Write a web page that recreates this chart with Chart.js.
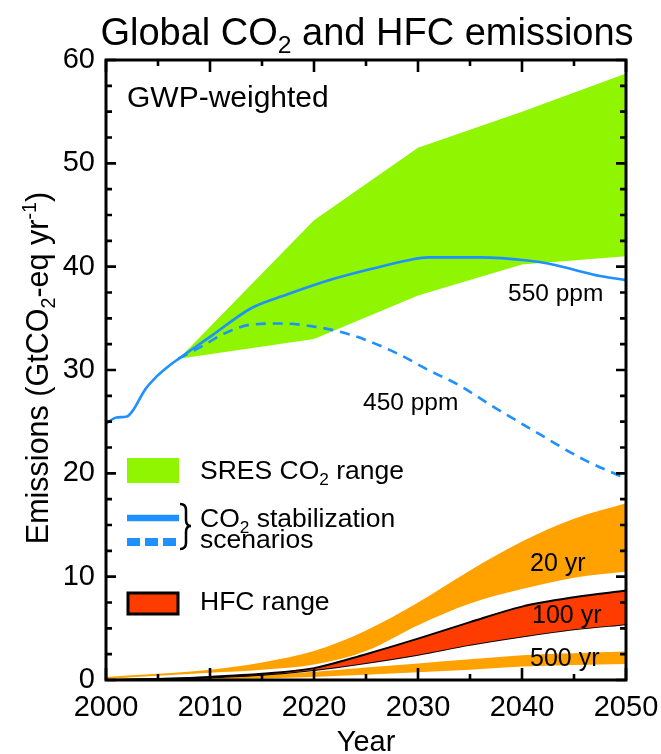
<!DOCTYPE html>
<html><head><meta charset="utf-8">
<script src="https://cdn.jsdelivr.net/npm/chart.js@4/dist/chart.umd.min.js"></script>
<style>html,body{margin:0;padding:0;background:#fff}#wrap{width:661px;height:754px}</style>
</head><body><div id="wrap"><canvas id="c" width="661" height="754"></canvas></div>
<script>
const FONT = '"Liberation Sans", Arial, Helvetica, sans-serif';

// Tick labels
const xTickValues = [2000, 2010, 2020, 2030, 2040, 2050];
const yTickValues = [0, 10, 20, 30, 40, 50, 60];

// SRES CO2 range (GtCO2-eq/yr)
const sresYears = [2007, 2020, 2030, 2040, 2050];
const sresHigh  = [31.1, 44.5, 51.5, 55.0, 58.7];
const sresLow   = [31.1, 33.0, 37.2, 40.2, 41.0];

// CO2 stabilization scenarios
const stab550Years = [2000, 2001, 2002, 2002.6, 2003.75, 2004.9, 2005.8, 2007, 2008.7, 2010, 2014, 2017.4, 2021.5, 2025.6, 2029.4, 2031, 2036, 2040.5, 2042.5, 2045, 2047.5, 2050];
const stab550      = [24.8, 25.4, 25.5, 26.1, 28.1, 29.4, 30.2, 31.1, 32.3, 33.2, 36.0, 37.3, 38.7, 39.8, 40.7, 40.9, 40.9, 40.6, 40.3, 39.7, 39.1, 38.7];
const stab450Years = [2007, 2009.4, 2011.3, 2014, 2017, 2020, 2022.5, 2025, 2028, 2031, 2034, 2037, 2041, 2046, 2050];
const stab450      = [31.1, 32.4, 33.5, 34.4, 34.5, 34.2, 33.7, 32.9, 31.6, 30.0, 28.5, 26.6, 24.2, 21.3, 19.5];

// HFC range, GWP-weighted for 20, 100 and 500 yr horizons
const hfcYears   = [2000, 2005, 2010, 2015, 2020, 2025, 2030, 2035, 2040, 2045, 2050];
const hfc20High  = [0.3, 0.6, 1.0, 1.7, 2.8, 4.8, 7.5, 10.6, 13.4, 15.6, 17.1];
const hfc20Low   = [0.1, 0.4, 0.7, 1.0, 1.5, 2.8, 5.3, 7.4, 8.8, 9.9, 10.5];
const hfc100High = [0.0, 0.1, 0.3, 0.6, 1.15, 2.5, 4.0, 5.6, 7.1, 8.0, 8.65];
const hfc100Low  = [0.0, 0.1, 0.25, 0.5, 0.97, 1.65, 2.45, 3.4, 4.2, 4.9, 5.4];
const hfc500High = [0.05, 0.1, 0.25, 0.5, 0.8, 1.2, 1.6, 2.0, 2.4, 2.6, 2.75];
const hfc500Low  = [0.0, 0.0, 0.05, 0.15, 0.3, 0.5, 0.75, 1.0, 1.3, 1.45, 1.55];

const GREEN = '#8FF500', ORANGE = '#FFA200', RED = '#FF3C00', BLUE = '#1E90FF';

const pts = (xs, ys) => xs.map((x, i) => ({x: x, y: ys[i]}));

function band(xs, ys, color, fillTarget, order, border) {
  return {
    data: pts(xs, ys), backgroundColor: color,
    borderColor: border ? '#000' : 'rgba(0,0,0,0)', borderWidth: border ? 2 : 0,
    fill: fillTarget === null ? false : {target: fillTarget},
    pointRadius: 0, order: order, cubicInterpolationMode: 'monotone'
  };
}

const datasets = [
  band(sresYears, sresHigh, GREEN, 1, 9, false),
  band(sresYears, sresLow, GREEN, null, 10, false),
  band(hfcYears, hfc20High, ORANGE, 3, 5, false),
  band(hfcYears, hfc20Low, ORANGE, null, 6, false),
  band(hfcYears, hfc100High, RED, 5, 3, true),
  band(hfcYears, hfc100Low, RED, null, 4, true),
  band(hfcYears, hfc500High, ORANGE, 7, 7, false),
  band(hfcYears, hfc500Low, ORANGE, null, 8, false),
  {data: pts(stab550Years, stab550), borderColor: BLUE, borderWidth: 2.6, fill: false, pointRadius: 0, order: 0, cubicInterpolationMode: 'monotone'},
  {data: pts(stab450Years, stab450), borderColor: BLUE, borderWidth: 2.6, borderDash: [10, 7], fill: false, pointRadius: 0, order: 1, cubicInterpolationMode: 'monotone'}
];
datasets[0].cubicInterpolationMode = 'default'; datasets[1].cubicInterpolationMode = 'default';

function richText(ctx, parts, x, y, size, align) {
  const segs = parts.map(p => {
    const s = (p.sub || p.sup) ? size * 0.65 : size;
    ctx.font = s + 'px ' + FONT;
    return {t: p.t, s: s, w: ctx.measureText(p.t).width, dy: p.sub ? size * 0.22 : (p.sup ? -size * 0.38 : 0)};
  });
  const total = segs.reduce((a, b) => a + b.w, 0);
  let cx = align === 'center' ? x - total / 2 : (align === 'right' ? x - total : x);
  ctx.textAlign = 'left';
  ctx.textBaseline = 'alphabetic';
  segs.forEach(sg => {
    ctx.font = sg.s + 'px ' + FONT;
    ctx.fillText(sg.t, cx, y + sg.dy);
    cx += sg.w;
  });
}

const decor = {
  id: 'decor',
  afterDraw(chart) {
    const ctx = chart.ctx, a = chart.chartArea;
    const xs = chart.scales.x, ys = chart.scales.y;
    ctx.save();
    ctx.fillStyle = '#000';
    ctx.strokeStyle = '#000';
    // inward ticks
    ctx.lineWidth = 2.6;
    ctx.beginPath();
    for (let v = 0; v <= 60; v += 2.5) {
      const p = ys.getPixelForValue(v);
      const L = (v % 10 === 0) ? 10 : 6;
      ctx.moveTo(a.left, p); ctx.lineTo(a.left + L, p);
      ctx.moveTo(a.right, p); ctx.lineTo(a.right - L, p);
    }
    for (let v = 2000; v <= 2050; v += 5) {
      const p = xs.getPixelForValue(v);
      const L = (v % 10 === 0) ? 12 : 6;
      ctx.moveTo(p, a.bottom); ctx.lineTo(p, a.bottom - L);
      ctx.moveTo(p, a.top); ctx.lineTo(p, a.top + L);
    }
    ctx.stroke();
    // frame
    ctx.lineWidth = 3;
    ctx.strokeRect(a.left, a.top, a.right - a.left, a.bottom - a.top);

    // title
    richText(ctx, [{t: 'Global CO'}, {t: '2', sub: true}, {t: ' and HFC emissions'}], 367, 45, 38, 'center');
    // x title
    richText(ctx, [{t: 'Year'}], 366, 751, 29, 'center');
    // y title
    ctx.save();
    ctx.translate(48, 368);
    ctx.rotate(-Math.PI / 2);
    richText(ctx, [{t: 'Emissions (GtCO'}, {t: '2', sub: true}, {t: '-eq yr'}, {t: '-1', sup: true}, {t: ')'}], 0, 0, 30.5, 'center');
    ctx.restore();

    // annotations
    richText(ctx, [{t: 'GWP-weighted'}], 127, 107, 30, 'left');
    richText(ctx, [{t: '550 ppm'}], 508, 301, 24.5, 'left');
    richText(ctx, [{t: '450 ppm'}], 363, 410, 24.5, 'left');
    richText(ctx, [{t: '20 yr'}], 530, 571, 25, 'left');
    richText(ctx, [{t: '100 yr'}], 532, 623, 25, 'left');
    richText(ctx, [{t: '500 yr'}], 530, 666, 25, 'left');

    // legend
    ctx.fillStyle = GREEN;
    ctx.fillRect(127, 458, 52, 25);
    ctx.fillStyle = '#000';
    richText(ctx, [{t: 'SRES CO'}, {t: '2', sub: true}, {t: ' range'}], 200, 479, 26.5, 'left');

    ctx.strokeStyle = BLUE;
    ctx.lineWidth = 6.5;
    ctx.beginPath(); ctx.moveTo(127, 518); ctx.lineTo(179, 518); ctx.stroke();
    ctx.lineWidth = 8;
    ctx.setLineDash([13, 5]);
    ctx.beginPath(); ctx.moveTo(127, 542); ctx.lineTo(179, 542); ctx.stroke();
    ctx.setLineDash([]);
    ctx.strokeStyle = '#000';
    ctx.lineWidth = 2.5;
    ctx.beginPath();
    ctx.moveTo(180, 504);
    ctx.quadraticCurveTo(186, 504, 186, 510);
    ctx.lineTo(186, 520);
    ctx.quadraticCurveTo(186, 526, 191, 526);
    ctx.quadraticCurveTo(186, 526, 186, 532);
    ctx.lineTo(186, 543);
    ctx.quadraticCurveTo(186, 549, 180, 549);
    ctx.stroke();
    richText(ctx, [{t: 'CO'}, {t: '2', sub: true}, {t: ' stabilization'}], 200, 527, 26.5, 'left');
    richText(ctx, [{t: 'scenarios'}], 200, 548, 26.5, 'left');

    ctx.fillStyle = RED;
    ctx.fillRect(128, 593, 50, 21);
    ctx.lineWidth = 3;
    ctx.strokeRect(128, 593, 50, 21);
    ctx.fillStyle = '#000';
    richText(ctx, [{t: 'HFC range'}], 200, 610, 26.5, 'left');
    ctx.restore();
  }
};

new Chart(document.getElementById('c'), {
  type: 'line',
  data: {datasets: datasets},
  options: {
    responsive: false, animation: false,
    layout: {padding: {top: 60, right: 35, bottom: 0, left: 0}},
    plugins: {legend: {display: false}, tooltip: {enabled: false}, title: {display: false}},
    elements: {line: {tension: 0}},
    scales: {
      x: {
        type: 'linear', min: 2000, max: 2050,
        grid: {display: false, drawTicks: false}, border: {display: false},
        afterBuildTicks: s => { s.ticks = xTickValues.map(v => ({value: v})); },
        afterFit: s => { s.height = 74; s.paddingLeft = 0; s.paddingRight = 0; },
        ticks: {color: '#000', padding: 11, maxRotation: 0, font: {family: FONT, size: 29}, callback: v => String(v)}
      },
      y: {
        type: 'linear', min: 0, max: 60,
        grid: {display: false, drawTicks: false}, border: {display: false},
        afterBuildTicks: s => { s.ticks = yTickValues.map(v => ({value: v})); },
        afterFit: s => { s.width = 106; s.paddingTop = 0; s.paddingBottom = 0; },
        ticks: {color: '#000', padding: 11, font: {family: FONT, size: 29}, callback: v => String(v)}
      }
    }
  },
  plugins: [decor]
});
</script>
</body></html>
